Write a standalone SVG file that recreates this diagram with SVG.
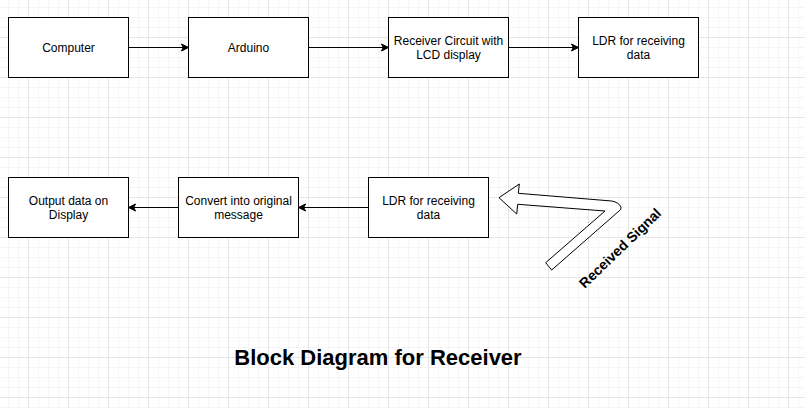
<svg xmlns="http://www.w3.org/2000/svg" width="805" height="408" viewBox="0 0 805 408">
  <defs>
    <pattern id="minor" patternUnits="userSpaceOnUse" x="8" y="7" width="10" height="10">
      <path d="M0.5 0V10M0 0.5H10" stroke="#f5f5f5" stroke-width="1" fill="none"/>
    </pattern>
    <pattern id="major" patternUnits="userSpaceOnUse" x="28" y="37" width="40" height="40">
      <path d="M0.5 0V40M0 0.5H40" stroke="#e6e6e6" stroke-width="1" fill="none"/>
    </pattern>
    <marker id="arr" markerUnits="userSpaceOnUse" markerWidth="10" markerHeight="10" viewBox="0 0 10 10" refX="8" refY="5" orient="auto">
      <path d="M8 5L1 1.5L2.8 5L1 8.5Z" fill="#000" stroke="#000" stroke-width="1"/>
    </marker>
  </defs>
  <style>
    .box { fill: #ffffff; stroke: #000000; stroke-width: 1; }
    .lbl { font-family: "Liberation Sans", Arial, sans-serif; font-size: 12px; fill: #000000; text-anchor: middle; }
    .edge { stroke: #000000; stroke-width: 1; fill: none; marker-end: url(#arr); }
  </style>
  <rect width="805" height="408" fill="#ffffff"/>
  <rect width="805" height="408" fill="url(#minor)"/>
  <rect width="805" height="408" fill="url(#major)"/>

  <g id="connectors">
    <path class="edge" d="M128.5 47.5H188.5"/>
    <path class="edge" d="M308.5 47.5H388.5"/>
    <path class="edge" d="M508.5 47.5H578.5"/>
    <path class="edge" d="M368.5 207.5H298.5"/>
    <path class="edge" d="M178.5 207.5H128.5"/>
  </g>

  <g id="computer">
    <rect class="box" x="8.5" y="17.5" width="120" height="60"/>
    <text class="lbl" x="68.5" y="51.5">Computer</text>
  </g>
  <g id="arduino">
    <rect class="box" x="188.5" y="17.5" width="120" height="60"/>
    <text class="lbl" x="248.5" y="51.5">Arduino</text>
  </g>
  <g id="receiver-circuit">
    <rect class="box" x="388.5" y="17.5" width="120" height="60"/>
    <text class="lbl" x="448.5" y="44.5">Receiver Circuit with</text>
    <text class="lbl" x="448.5" y="58.5">LCD display</text>
  </g>
  <g id="ldr-top">
    <rect class="box" x="578.5" y="17.5" width="120" height="60"/>
    <text class="lbl" x="638.5" y="44.5">LDR for receiving</text>
    <text class="lbl" x="638.5" y="58.5">data</text>
  </g>

  <g id="output-display">
    <rect class="box" x="8.5" y="177.5" width="120" height="60"/>
    <text class="lbl" x="68.5" y="204.5">Output data on</text>
    <text class="lbl" x="68.5" y="218.5">Display</text>
  </g>
  <g id="convert">
    <rect class="box" x="178.5" y="177.5" width="120" height="60"/>
    <text class="lbl" x="238.5" y="204.5">Convert into original</text>
    <text class="lbl" x="238.5" y="218.5">message</text>
  </g>
  <g id="ldr-bottom">
    <rect class="box" x="368.5" y="177.5" width="120" height="60"/>
    <text class="lbl" x="428.5" y="204.5">LDR for receiving</text>
    <text class="lbl" x="428.5" y="218.5">data</text>
  </g>

  <g id="received-signal">
    <path d="M499 197.7L519.3 184L518.3 193.3L611.7 201Q619 202.5 621 207Q621.5 209.5 619 211L551.7 270L545.7 262.7L605 211L517.7 204.3L516.7 214Z" fill="#ffffff" stroke="#000000" stroke-width="1" stroke-linejoin="miter"/>
    <text x="0" y="5" transform="translate(620 248) rotate(-44)" font-family="Liberation Sans, Arial, sans-serif" font-size="14" font-weight="bold" text-anchor="middle" fill="#000000">Received Signal</text>
  </g>

  <g id="title">
    <text x="378" y="365" font-family="Liberation Sans, Arial, sans-serif" font-size="22" font-weight="bold" text-anchor="middle" fill="#000000">Block Diagram for Receiver</text>
  </g>
</svg>
